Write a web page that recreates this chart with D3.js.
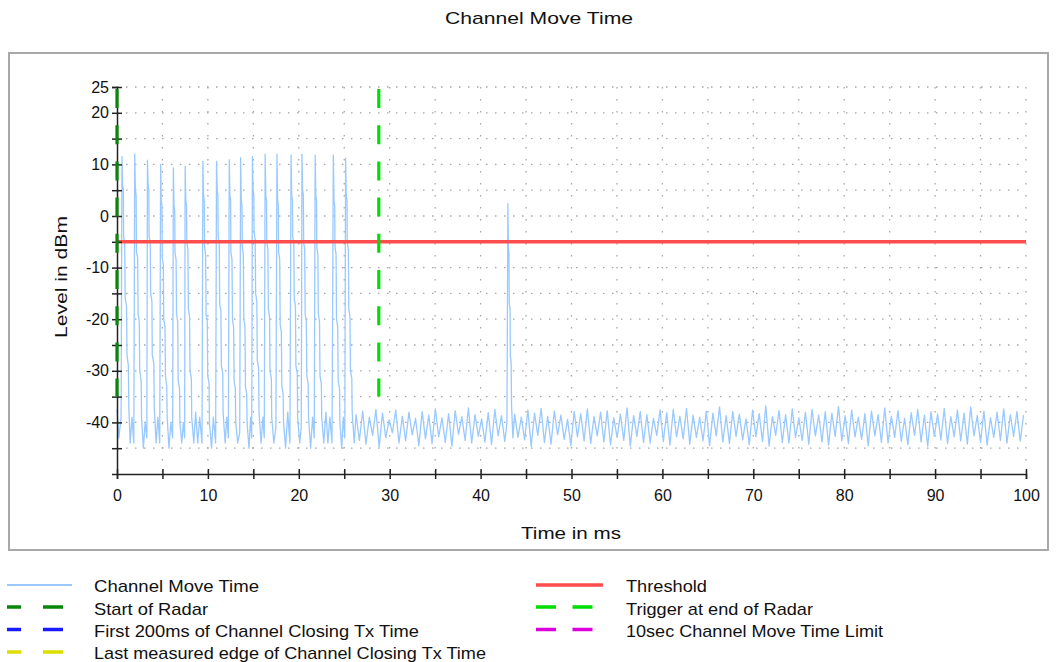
<!DOCTYPE html>
<html><head><meta charset="utf-8">
<script src="https://cdn.jsdelivr.net/npm/d3@7"></script>
<style>
body{margin:0;background:#fff}
svg text{font-family:"Liberation Sans",Arial,sans-serif;fill:#111}
</style>
</head><body>
<svg id="chart" width="1061" height="662"></svg>
<script>
// ---------------- DATA ----------------
const chartTitle = "Channel Move Time";
const xTitle = "Time in ms";
const yTitle = "Level in dBm";
const xTickLabels = [0,10,20,30,40,50,60,70,80,90,100];
const yTickLabels = [25,20,10,0,-10,-20,-30,-40];
const thresholdDbm = -5;
const startOfRadarMs = 0;
const triggerEndRadarMs = 28.8;
const radarMarkerRange = [25, -35];

// measured trace, 0 .. 26 ms (radar pulses), [ms, dBm]
const tracePulses = [
 [0,-37.5],[0.2,-43],[0.45,-39],
 [0.55,11.5],[0.62,6],[0.7,5],[0.73,-4],[0.85,-5.5],[0.9,-16],[1.05,-17.5],[1.1,-27],[1.25,-29],[1.3,-37],[1.45,-44],[1.65,-39],[1.85,-44],
 [1.95,12],[2.02,5],[2.1,4],[2.14,-7],[2.27,-8],[2.32,-19],[2.45,-20.5],[2.5,-30],[2.66,-32],[2.7,-39],[2.9,-45],[3.1,-40],[3.28,-43],
 [3.35,10.8],[3.42,6],[3.5,5],[3.53,-4],[3.66,-5],[3.7,-15],[3.84,-16.5],[3.88,-27],[4.05,-28.5],[4.1,-37],[4.3,-44],[4.5,-39],[4.7,-44],
 [4.8,10],[4.87,3],[4.95,2],[4.98,-8],[5.1,-9.5],[5.14,-20],[5.28,-21.5],[5.33,-31],[5.47,-33],[5.52,-39],[5.72,-45],[5.92,-40],[6.12,-43],
 [6.2,9.3],[6.27,2],[6.35,1],[6.38,-7],[6.5,-8.5],[6.55,-19],[6.68,-20.5],[6.73,-32],[6.88,-33.5],[6.92,-40],[7.12,-44],[7.3,-40],[7.44,-43],
 [7.5,9.6],[7.57,3],[7.65,2],[7.68,-5],[7.8,-6.5],[7.85,-18],[7.98,-19.5],[8.03,-30],[8.18,-31.5],[8.22,-39],[8.45,-44],[8.65,-38],[8.88,-44],[9.1,-39],[9.35,-44],
 [9.45,10.6],[9.52,4],[9.6,3],[9.63,-6],[9.75,-7.5],[9.8,-19],[9.93,-20.5],[9.98,-31],[10.13,-32.5],[10.17,-40],[10.4,-45],[10.6,-39],[10.85,-44],
 [10.95,10.6],[11.02,5],[11.1,4],[11.13,-4],[11.25,-5.5],[11.3,-17],[11.43,-18.5],[11.48,-29],[11.63,-30.5],[11.67,-38],[11.9,-44],[12.08,-39],[12.25,-43],
 [12.35,10.9],[12.42,4],[12.5,3],[12.53,-7],[12.65,-8.5],[12.7,-20],[12.83,-21.5],[12.88,-32],[13.02,-33.5],[13.06,-40],[13.28,-44],[13.5,-42],
 [13.6,11.3],[13.67,3],[13.75,2],[13.78,-6],[13.9,-7.5],[13.95,-20],[14.08,-21.5],[14.13,-33],[14.27,-34.5],[14.31,-40],[14.52,-45],[14.7,-39],[14.82,-43],
 [14.9,11.5],[14.97,5],[15.05,4],[15.08,-3],[15.2,-4.5],[15.25,-15],[15.38,-16.5],[15.43,-28],[15.58,-29.5],[15.62,-38],[15.85,-44],[16.05,-39],[16.2,-43],
 [16.3,12],[16.37,4],[16.45,3],[16.48,-5],[16.6,-6.5],[16.65,-18],[16.78,-19.5],[16.83,-30],[16.98,-31.5],[17.02,-39],[17.25,-44],[17.48,-41],
 [17.6,12],[17.67,3],[17.75,2],[17.78,-7],[17.9,-8.5],[17.95,-21],[18.08,-22.5],[18.13,-33],[18.28,-34.5],[18.32,-40],[18.55,-45],[18.78,-38],[19.02,-44],
 [19.15,11.8],[19.22,4],[19.3,3],[19.33,-4],[19.45,-5.5],[19.5,-16],[19.63,-17.5],[19.68,-29],[19.83,-30.5],[19.87,-39],[20.1,-44],[20.27,-41],
 [20.35,12],[20.42,5],[20.5,4],[20.53,-5],[20.65,-6.5],[20.7,-19],[20.83,-20.5],[20.88,-31],[21.03,-32.5],[21.07,-39],[21.3,-45],[21.52,-39],[21.7,-43],
 [21.8,11.8],[21.87,4],[21.95,3],[21.98,-6],[22.1,-7.5],[22.15,-19],[22.28,-20.5],[22.33,-31],[22.48,-32.5],[22.52,-39],[22.75,-44],[22.98,-38],[23.2,-44],[23.42,-39],[23.65,-44],
 [23.8,11.8],[23.87,3],[23.95,2],[23.98,-6],[24.1,-7.5],[24.15,-20],[24.28,-21.5],[24.33,-32],[24.48,-33.5],[24.52,-40],[24.72,-45],[24.9,-39],[25.06,-43],
 [25.15,11.2],[25.22,4],[25.3,3],[25.33,-5],[25.45,-6.5],[25.5,-18],[25.63,-19.5],[25.68,-30],[25.83,-31.5],[25.87,-38],[26.1,-44]
];

// noise floor after the radar burst, sampled every noiseStepMs from noiseStartMs
const noiseStartMs = 26.3;
const noiseStepMs = 0.3635;
const noiseDbm = [
 -38.5,-43.5,-37.8,-44.2,-39.0,-42.5,-37.5,-44.8,-38.2,-43.0,-39.5,-42.0,-37.6,-44.0,-38.8,-43.6,-38.0,-42.4,-39.2,-44.5,
 -37.9,-43.2,-38.6,-44.1,-37.4,-42.8,-39.1,-43.9,-38.3,-44.6,-37.7,-42.3,-38.9,-43.5,-37.2,-44.0,-38.5,-42.7,-39.3,-43.8,
 -38.1,-44.3,-37.5,-42.6,-38.7,-43.7,-37.0,-44.4,-38.4,-42.9,-39.0,-43.4,-37.6,-44.7,-38.2,-42.5,-37.3,-43.9,-38.8,-44.2,
 -37.8,-42.4,-38.6,-43.3,-39.4,-44.5,-37.9,-42.8,-38.3,-43.6,-37.4,-44.1,-38.9,-42.6,-38.0,-43.8,-37.7,-44.3,-39.1,-42.9,
 -38.4,-43.5,-37.2,-44.6,-38.7,-42.7,-37.9,-43.9,-38.5,-44.0,-39.2,-42.5,-37.6,-43.7,-38.1,-44.4,-37.5,-42.8,-38.8,-43.2,
 -37.3,-44.2,-38.6,-42.9,-39.0,-43.6,-37.8,-44.5,-38.2,-42.6,-37.0,-43.8,-38.7,-44.1,-37.9,-42.7,-38.4,-43.4,-39.3,-44.3,
 -37.6,-42.8,-38.3,-43.7,-36.8,-44.6,-38.9,-42.5,-37.7,-43.9,-38.5,-44.0,-37.4,-42.9,-39.1,-43.5,-38.0,-44.2,-37.5,-42.6,
 -38.6,-43.8,-37.9,-44.4,-38.2,-42.7,-36.9,-43.6,-38.7,-44.1,-37.6,-42.8,-39.0,-43.3,-38.3,-44.5,-37.8,-42.6,-38.5,-43.9,
 -37.2,-44.0,-38.8,-42.9,-37.7,-43.7,-39.2,-44.3,-38.1,-42.5,-37.5,-43.8,-38.6,-44.6,-37.9,-42.7,-38.4,-43.4,-37.3,-44.1,
 -38.9,-42.8,-37.6,-43.6,-38.2,-44.2,-37.0,-42.6,-38.7,-43.9,-37.8,-44.4,-39.1,-42.9,-38.0,-43.5,-37.4,-44.0,-38.5,-42.7,
 -37.9,-43.6,-38.6
];

// isolated spike around 43 ms, [ms, dBm]
const spike43 = [[42.9,-40],[43.0,2.4],[43.06,-6],[43.12,-7.5],[43.15,-17],[43.24,-18],[43.27,-27],[43.36,-28.5],[43.4,-36.5],[43.55,-43]];

const legendLabels = [
 "Channel Move Time","Threshold",
 "Start of Radar","Trigger at end of Radar",
 "First 200ms of Channel Closing Tx Time","10sec Channel Move Time Limit",
 "Last measured edge of Channel Closing Tx Time"
];

// ---------------- STYLE / LAYOUT ----------------
const C = {
  trace:"#99c9ff", threshold:"#ff4c4c", startRadar:"#0a870a", trigger:"#00dd00",
  first200:"#1a1aff", limit10:"#dd00dd", lastEdge:"#dddd00", grid:"#a6a6a6"
};
const legendStyle = {
  "Channel Move Time":{c:C.trace, w:2, dash:null},
  "Threshold":{c:C.threshold, w:3.5, dash:null},
  "Start of Radar":{c:C.startRadar, w:3.5, dash:"14 22 20 30"},
  "Trigger at end of Radar":{c:C.trigger, w:3.5, dash:"20 16.5"},
  "First 200ms of Channel Closing Tx Time":{c:C.first200, w:3.5, dash:"14 22 20 30"},
  "10sec Channel Move Time Limit":{c:C.limit10, w:3.5, dash:"20 16.5"},
  "Last measured edge of Channel Closing Tx Time":{c:C.lastEdge, w:3.5, dash:"14 22 20 30"}
};
const legendTextLen = {
  "Channel Move Time":165,"Start of Radar":114,"First 200ms of Channel Closing Tx Time":325,
  "Last measured edge of Channel Closing Tx Time":392,"Threshold":81,"Trigger at end of Radar":187,
  "10sec Channel Move Time Limit":257
};

const svg = d3.select("#chart");
svg.append("rect").attr("x",0).attr("y",0).attr("width",1061).attr("height",662).attr("fill","#fff");
svg.append("rect").attr("x",9).attr("y",53).attr("width",1039).attr("height",497)
  .attr("fill","#fff").attr("stroke","#a8a8a8").attr("stroke-width",2);

const x = d3.scaleLinear().domain([0,100]).range([117,1026]);
const y = d3.scaleLinear().domain([-50,25]).range([474,87]);

// title
svg.append("text").attr("x",539).attr("y",24).attr("text-anchor","middle")
  .attr("font-size",17).attr("textLength",188).attr("lengthAdjust","spacingAndGlyphs").text(chartTitle);

// grid
const gx = d3.range(5,101,5), gy = d3.range(-45,26,5);
svg.append("g").selectAll("line").data(gx).join("line")
  .attr("x1",d=>x(d)).attr("x2",d=>x(d)).attr("y1",y(25)).attr("y2",y(-50))
  .attr("stroke",C.grid).attr("stroke-width",1.3).attr("stroke-dasharray","1.5 10.5");
svg.append("g").selectAll("line").data(gy).join("line")
  .attr("y1",d=>y(d)).attr("y2",d=>y(d)).attr("x1",x(0)).attr("x2",x(100))
  .attr("stroke",C.grid).attr("stroke-width",1.3).attr("stroke-dasharray","1.5 7.5");

// trace
const lo = spike43[0][0], hi = spike43[spike43.length-1][0];
const noisePts = noiseDbm.map((v,i)=>[noiseStartMs+i*noiseStepMs, v])
  .filter(d=>(d[0]<lo||d[0]>hi) && d[0]<=100);
const series = tracePulses.concat(noisePts, spike43).sort((a,b)=>a[0]-b[0]);
svg.append("path").datum(series)
  .attr("d",d3.line().x(d=>x(d[0])).y(d=>y(d[1])))
  .attr("fill","none").attr("stroke",C.trace).attr("stroke-width",1.3).attr("stroke-linejoin","round");

// threshold
svg.append("line").attr("x1",x(0)).attr("x2",x(100)).attr("y1",y(thresholdDbm)).attr("y2",y(thresholdDbm))
  .attr("stroke",C.threshold).attr("stroke-width",3.5);

// axes
const yAxis = d3.axisLeft(y).tickValues(d3.range(-45,26,5)).tickSize(5).tickPadding(3)
  .tickFormat(d=>yTickLabels.includes(d)?String(d):"");
const gY = svg.append("g").attr("transform",`translate(${x(0)},0)`).call(yAxis);
const xAxis = d3.axisBottom(x).tickValues(d3.range(0,101,5)).tickSize(5).tickPadding(11)
  .tickFormat(d=>xTickLabels.includes(d)?String(d):"");
const gX = svg.append("g").attr("transform",`translate(0,${y(-50)})`).call(xAxis);
[gY,gX].forEach(g=>{
  g.select(".domain").attr("stroke","#222").attr("stroke-width",1.5);
  g.selectAll(".tick line").attr("stroke","#222").attr("stroke-width",1.5);
  g.selectAll("text").attr("font-size",16).attr("font-family","'Liberation Sans',Arial,sans-serif").attr("fill","#111");
});
gY.selectAll(".tick line").attr("x1",5).attr("x2",-5);
gX.selectAll(".tick line").attr("y1",-5).attr("y2",5);

// radar markers
function vmark(ms,color){
  svg.append("line").attr("x1",x(ms)).attr("x2",x(ms))
    .attr("y1",y(radarMarkerRange[0])+2).attr("y2",y(radarMarkerRange[1]))
    .attr("stroke",color).attr("stroke-width",3.2).attr("stroke-dasharray","19 17.2");
}
vmark(startOfRadarMs,C.startRadar);
vmark(triggerEndRadarMs,C.trigger);

// axis titles
svg.append("text").attr("x",571).attr("y",539).attr("text-anchor","middle").attr("font-size",17)
  .attr("textLength",100).attr("lengthAdjust","spacingAndGlyphs").text(xTitle);
svg.append("text").attr("transform","translate(67,277) rotate(-90)").attr("text-anchor","middle")
  .attr("font-size",17).attr("textLength",122).attr("lengthAdjust","spacingAndGlyphs").text(yTitle);

// legend
const leftCol = ["Channel Move Time","Start of Radar","First 200ms of Channel Closing Tx Time","Last measured edge of Channel Closing Tx Time"];
const rightCol = ["Threshold","Trigger at end of Radar","10sec Channel Move Time Limit"];
const rowLineY = [585,607,629.5,652];
const rowTextY = [592,615,637,659];
function legendCol(items, lx1, lx2, tx){
  items.forEach((lab,i)=>{
    const s = legendStyle[lab];
    const ln = svg.append("line").attr("x1",lx1).attr("x2",lx2).attr("y1",rowLineY[i]).attr("y2",rowLineY[i])
      .attr("stroke",s.c).attr("stroke-width",s.w);
    if(s.dash) ln.attr("stroke-dasharray",s.dash);
    svg.append("text").attr("x",tx).attr("y",rowTextY[i]).attr("font-size",17)
      .attr("textLength",legendTextLen[lab]).attr("lengthAdjust","spacingAndGlyphs").text(lab);
  });
}
legendCol(leftCol.filter(l=>legendLabels.includes(l)), 7, 72, 94);
legendCol(rightCol.filter(l=>legendLabels.includes(l)), 536, 603, 626);
</script>
</body></html>
